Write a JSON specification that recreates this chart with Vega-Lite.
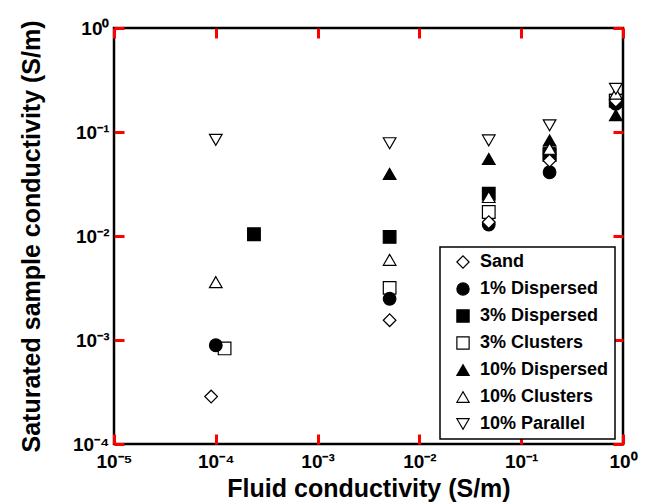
{
  "$schema": "https://vega.github.io/schema/vega-lite/v6.json",
  "autosize": {"type": "none"},
  "width": 509,
  "height": 416,
  "padding": {"left": 114, "top": 28, "right": 27, "bottom": 60},
  "background": "white",
  "config": {
    "font": "Liberation Sans",
    "view": {"stroke": "black", "strokeWidth": 2.5},
    "axis": {
      "domain": false,
      "grid": false,
      "ticks": true,
      "tickColor": "red",
      "tickWidth": 3,
      "tickSize": -10,
      "labelFont": "Liberation Sans",
      "labelFontSize": 19,
      "labelFontWeight": "bold",
      "labelColor": "black",
      "labelFlush": false,
      "titleFont": "Liberation Sans",
      "titleFontSize": 25,
      "titleFontWeight": "bold",
      "titleColor": "black"
    },
    "legend": {
      "orient": "none",
      "legendX": 326,
      "legendY": 219,
      "strokeColor": "black",
      "strokeWidth": 1.5,
      "padding": 6,
      "rowPadding": 9,
      "symbolOffset": 8,
      "labelFont": "Liberation Sans",
      "labelFontSize": 18,
      "labelFontWeight": "bold",
      "labelColor": "black",
      "labelOffset": 8,
      "symbolSize": 150,
      "symbolStrokeWidth": 1.2,
      "fillColor": "white"
    }
  },
  "data": {
    "values": [
      {"sample": "10% Parallel", "fluid": 0.0001, "sat": 0.084},
      {"sample": "10% Clusters", "fluid": 0.0001, "sat": 0.0036},
      {"sample": "3% Clusters", "fluid": 0.000122, "sat": 0.00083},
      {"sample": "1% Dispersed", "fluid": 0.0001, "sat": 0.00089},
      {"sample": "Sand", "fluid": 0.00009, "sat": 0.000286},
      {"sample": "3% Dispersed", "fluid": 0.000237, "sat": 0.0104},

      {"sample": "10% Parallel", "fluid": 0.0051, "sat": 0.078},
      {"sample": "10% Dispersed", "fluid": 0.0051, "sat": 0.0396},
      {"sample": "3% Dispersed", "fluid": 0.0051, "sat": 0.0098},
      {"sample": "10% Clusters", "fluid": 0.0051, "sat": 0.0059},
      {"sample": "3% Clusters", "fluid": 0.0051, "sat": 0.00317},
      {"sample": "1% Dispersed", "fluid": 0.0051, "sat": 0.00249},
      {"sample": "Sand", "fluid": 0.0051, "sat": 0.00155},

      {"sample": "10% Parallel", "fluid": 0.048, "sat": 0.083},
      {"sample": "10% Dispersed", "fluid": 0.048, "sat": 0.055},
      {"sample": "3% Dispersed", "fluid": 0.048, "sat": 0.0255},
      {"sample": "10% Clusters", "fluid": 0.048, "sat": 0.0237},
      {"sample": "3% Clusters", "fluid": 0.048, "sat": 0.017},
      {"sample": "1% Dispersed", "fluid": 0.048, "sat": 0.0129},
      {"sample": "Sand", "fluid": 0.048, "sat": 0.0136},

      {"sample": "1% Dispersed", "fluid": 0.19, "sat": 0.041},
      {"sample": "3% Clusters", "fluid": 0.19, "sat": 0.06},
      {"sample": "3% Dispersed", "fluid": 0.19, "sat": 0.062},
      {"sample": "Sand", "fluid": 0.19, "sat": 0.053},
      {"sample": "10% Dispersed", "fluid": 0.19, "sat": 0.083},
      {"sample": "10% Clusters", "fluid": 0.19, "sat": 0.069},
      {"sample": "10% Parallel", "fluid": 0.19, "sat": 0.116},

      {"sample": "3% Dispersed", "fluid": 0.85, "sat": 0.2},
      {"sample": "3% Clusters", "fluid": 0.85, "sat": 0.2},
      {"sample": "10% Dispersed", "fluid": 0.85, "sat": 0.145},
      {"sample": "1% Dispersed", "fluid": 0.85, "sat": 0.187},
      {"sample": "Sand", "fluid": 0.85, "sat": 0.2},
      {"sample": "10% Clusters", "fluid": 0.85, "sat": 0.234},
      {"sample": "10% Parallel", "fluid": 0.85, "sat": 0.26}
    ]
  },
  "layer": [
    {
      "mark": {"type": "point", "size": 160, "strokeWidth": 1.2, "opacity": 1},
      "encoding": {
        "x": {
          "field": "fluid", "type": "quantitative",
          "scale": {"type": "log", "domain": [0.00001, 1], "nice": false},
          "axis": {
            "values": [0.00001, 0.0001, 0.001, 0.01, 0.1, 1],
            "labelExpr": "{'-5':'10⁻⁵','-4':'10⁻⁴','-3':'10⁻³','-2':'10⁻²','-1':'10⁻¹','0':'10⁰'}['' + round(log(datum.value)/LN10)]",
            "labelPadding": 18,
            "title": "Fluid conductivity (S/m)",
            "titlePadding": 5
          }
        },
        "y": {
          "field": "sat", "type": "quantitative",
          "scale": {"type": "log", "domain": [0.0001, 1], "nice": false},
          "axis": {
            "values": [0.0001, 0.001, 0.01, 0.1, 1],
            "labelExpr": "{'-4':'10⁻⁴','-3':'10⁻³','-2':'10⁻²','-1':'10⁻¹','0':'10⁰'}['' + round(log(datum.value)/LN10)]",
            "labelPadding": 15,
            "title": "Saturated sample conductivity (S/m)",
            "titlePadding": 28
          }
        },
        "shape": {
          "field": "sample", "type": "nominal",
          "scale": {
            "domain": ["Sand", "1% Dispersed", "3% Dispersed", "3% Clusters", "10% Dispersed", "10% Clusters", "10% Parallel"],
            "range": ["diamond", "circle", "square", "square", "triangle-up", "triangle-up", "triangle-down"]
          },
          "legend": {"title": null}
        },
        "fill": {
          "field": "sample", "type": "nominal",
          "scale": {
            "domain": ["Sand", "1% Dispersed", "3% Dispersed", "3% Clusters", "10% Dispersed", "10% Clusters", "10% Parallel"],
            "range": ["white", "black", "black", "white", "black", "white", "white"]
          },
          "legend": {"title": null}
        },
        "stroke": {
          "field": "sample", "type": "nominal",
          "scale": {
            "domain": ["Sand", "1% Dispersed", "3% Dispersed", "3% Clusters", "10% Dispersed", "10% Clusters", "10% Parallel"],
            "range": ["black", "black", "black", "black", "black", "black", "black"]
          },
          "legend": {"title": null}
        }
      }
    },
    {
      "mark": {"type": "point", "opacity": 0},
      "encoding": {
        "x": {
          "field": "fluid", "type": "quantitative",
          "scale": {"type": "log", "domain": [0.00001, 1], "nice": false},
          "axis": {"orient": "top", "values": [0.00001, 0.0001, 0.001, 0.01, 0.1, 1], "labels": false, "title": null}
        },
        "y": {
          "field": "sat", "type": "quantitative",
          "scale": {"type": "log", "domain": [0.0001, 1], "nice": false},
          "axis": {"orient": "right", "values": [0.0001, 0.001, 0.01, 0.1, 1], "labels": false, "title": null}
        }
      }
    }
  ],
  "resolve": {"scale": {"x": "independent", "y": "independent"}}
}
